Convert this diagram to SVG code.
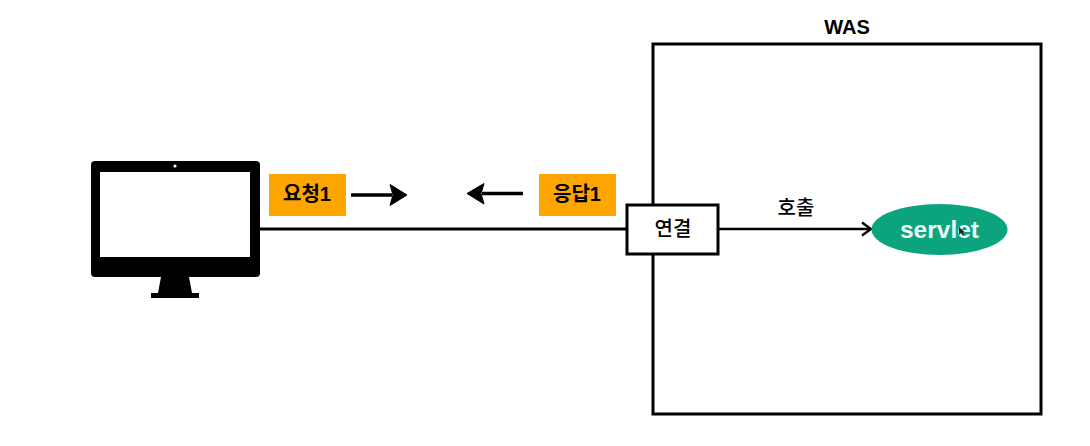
<svg xmlns="http://www.w3.org/2000/svg" width="1090" height="446" viewBox="0 0 1090 446">
<style>
text{font-family:"Liberation Sans","Noto Sans CJK KR",sans-serif;text-anchor:middle;fill:#000}
.b{font-weight:700}
.m{font-weight:500}
.tag{fill:#ffa500}
.ln{fill:none;stroke:#000;stroke-width:3}
.sk{fill:none;stroke:#000;stroke-width:3.500}
</style>
<defs>
<marker id="open" markerUnits="userSpaceOnUse" markerWidth="14" markerHeight="16" refX="12" refY="8" orient="auto"><path d="M3 1.500L12 8L3 14.500" fill="none" stroke="#000" stroke-width="2.400"/></marker>
</defs>
<rect width="1090" height="446" fill="#fff"/>
<g id="was">
<rect class="ln" x="653" y="44" width="388" height="370"/>
<text class="b" x="847" y="33.500" font-size="20">WAS</text>
</g>
<g id="connectors">
<path class="ln" d="M259 229H626"/>
<path class="ln" d="M718 229H871" marker-end="url(#open)" style="stroke-width:2.400"/>
<path class="sk" d="M351 195H392"/>
<path d="M390 184.500L407 195L390 205.500L393 195Z" fill="#000" stroke="#000" stroke-linejoin="round"/>
<path class="sk" d="M523 193.500H482"/>
<path d="M484 183.500L467 193.500L484 204L481 193.500Z" fill="#000" stroke="#000" stroke-linejoin="round"/>
</g>
<g id="monitor">
<rect x="91" y="161" width="169" height="116" rx="4" fill="#000"/>
<rect x="100" y="172" width="150" height="85" fill="#fff"/>
<circle cx="175" cy="166" r="1.600" fill="#fff"/>
<path d="M161 277H189L192 293H199V298H151V293H158Z" fill="#000"/>
</g>
<g id="request">
<rect class="tag" x="269" y="174" width="77" height="42"/>
<text class="b" x="307" y="201" font-size="20">요청1</text>
</g>
<g id="response">
<rect class="tag" x="539" y="174" width="77" height="42"/>
<text class="b" x="577" y="201" font-size="20">응답1</text>
</g>
<g id="connection">
<rect x="627" y="205" width="91" height="49" fill="#fff" stroke="#000" stroke-width="3"/>
<text class="m" x="673" y="235.500" font-size="20">연결</text>
</g>
<g id="call-label">
<text class="m" x="796" y="215" font-size="20">호출</text>
</g>
<g id="servlet">
<ellipse cx="939.500" cy="229.500" rx="68" ry="25.500" fill="#0ca37f"/>
<text class="b" x="939.500" y="238" font-size="24.500" style="fill:#eafaf5">servlet</text>
<path d="M959 227L959 235L961 233L963 236L964 235L962.500 232.500L964.500 232Z" fill="#222"/>
</g>
</svg>
